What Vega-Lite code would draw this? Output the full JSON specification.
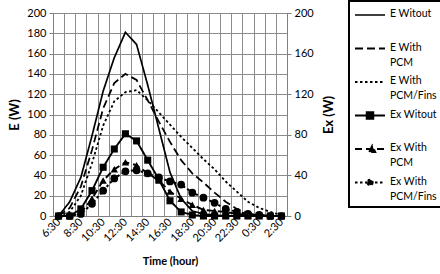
{
  "$schema": "https://vega.github.io/schema/vega-lite/v6.json",
  "width": 234,
  "height": 203,
  "autosize": {"type": "none"},
  "padding": {"left": 53, "top": 13, "right": 153, "bottom": 58},
  "background": "white",
  "config": {
    "font": "Lato",
    "view": {"stroke": "#808080", "strokeWidth": 1},
    "axis": {
      "labelFont": "Lato", "labelFontSize": 11, "labelColor": "#000000", "labelOverlap": false,
      "titleFont": "Lato", "titleColor": "#000000",
      "gridColor": "#8c8c8c", "gridWidth": 1, "gridOpacity": 1,
      "domainColor": "#808080", "tickColor": "#808080", "tickSize": 4
    }
  },
  "datasets": {
    "E": [
      {"time": "6:30", "series": "E Witout", "value": 0},
      {"time": "7:30", "series": "E Witout", "value": 14},
      {"time": "8:30", "series": "E Witout", "value": 38},
      {"time": "9:30", "series": "E Witout", "value": 79},
      {"time": "10:30", "series": "E Witout", "value": 123},
      {"time": "11:30", "series": "E Witout", "value": 156},
      {"time": "12:30", "series": "E Witout", "value": 181},
      {"time": "13:30", "series": "E Witout", "value": 169},
      {"time": "14:30", "series": "E Witout", "value": 129},
      {"time": "15:30", "series": "E Witout", "value": 86},
      {"time": "16:30", "series": "E Witout", "value": 43},
      {"time": "17:30", "series": "E Witout", "value": 17},
      {"time": "18:30", "series": "E Witout", "value": 5},
      {"time": "19:30", "series": "E Witout", "value": 2},
      {"time": "20:30", "series": "E Witout", "value": 1},
      {"time": "21:30", "series": "E Witout", "value": 0},
      {"time": "22:30", "series": "E Witout", "value": 0},
      {"time": "23:30", "series": "E Witout", "value": 0},
      {"time": "0:30", "series": "E Witout", "value": 0},
      {"time": "1:30", "series": "E Witout", "value": 0},
      {"time": "2:30", "series": "E Witout", "value": 0},
      {"time": "6:30", "series": "E With PCM", "value": 0},
      {"time": "7:30", "series": "E With PCM", "value": 8},
      {"time": "8:30", "series": "E With PCM", "value": 29},
      {"time": "9:30", "series": "E With PCM", "value": 65},
      {"time": "10:30", "series": "E With PCM", "value": 106},
      {"time": "11:30", "series": "E With PCM", "value": 131},
      {"time": "12:30", "series": "E With PCM", "value": 140},
      {"time": "13:30", "series": "E With PCM", "value": 134},
      {"time": "14:30", "series": "E With PCM", "value": 114},
      {"time": "15:30", "series": "E With PCM", "value": 93},
      {"time": "16:30", "series": "E With PCM", "value": 73},
      {"time": "17:30", "series": "E With PCM", "value": 55},
      {"time": "18:30", "series": "E With PCM", "value": 42},
      {"time": "19:30", "series": "E With PCM", "value": 33},
      {"time": "20:30", "series": "E With PCM", "value": 23},
      {"time": "21:30", "series": "E With PCM", "value": 14},
      {"time": "22:30", "series": "E With PCM", "value": 7},
      {"time": "23:30", "series": "E With PCM", "value": 3},
      {"time": "0:30", "series": "E With PCM", "value": 1},
      {"time": "1:30", "series": "E With PCM", "value": 0},
      {"time": "2:30", "series": "E With PCM", "value": 0},
      {"time": "6:30", "series": "E With PCM/Fins", "value": 0},
      {"time": "7:30", "series": "E With PCM/Fins", "value": 4},
      {"time": "8:30", "series": "E With PCM/Fins", "value": 20},
      {"time": "9:30", "series": "E With PCM/Fins", "value": 52},
      {"time": "10:30", "series": "E With PCM/Fins", "value": 89},
      {"time": "11:30", "series": "E With PCM/Fins", "value": 113},
      {"time": "12:30", "series": "E With PCM/Fins", "value": 122},
      {"time": "13:30", "series": "E With PCM/Fins", "value": 124},
      {"time": "14:30", "series": "E With PCM/Fins", "value": 114},
      {"time": "15:30", "series": "E With PCM/Fins", "value": 102},
      {"time": "16:30", "series": "E With PCM/Fins", "value": 90},
      {"time": "17:30", "series": "E With PCM/Fins", "value": 78},
      {"time": "18:30", "series": "E With PCM/Fins", "value": 67},
      {"time": "19:30", "series": "E With PCM/Fins", "value": 56},
      {"time": "20:30", "series": "E With PCM/Fins", "value": 46},
      {"time": "21:30", "series": "E With PCM/Fins", "value": 34},
      {"time": "22:30", "series": "E With PCM/Fins", "value": 24},
      {"time": "23:30", "series": "E With PCM/Fins", "value": 14},
      {"time": "0:30", "series": "E With PCM/Fins", "value": 8},
      {"time": "1:30", "series": "E With PCM/Fins", "value": 4},
      {"time": "2:30", "series": "E With PCM/Fins", "value": 1}
    ],
    "Ex": [
      {"time": "6:30", "series": "Ex Witout", "value": 0},
      {"time": "7:30", "series": "Ex Witout", "value": 0},
      {"time": "8:30", "series": "Ex Witout", "value": 7},
      {"time": "9:30", "series": "Ex Witout", "value": 25},
      {"time": "10:30", "series": "Ex Witout", "value": 48},
      {"time": "11:30", "series": "Ex Witout", "value": 66},
      {"time": "12:30", "series": "Ex Witout", "value": 81},
      {"time": "13:30", "series": "Ex Witout", "value": 74},
      {"time": "14:30", "series": "Ex Witout", "value": 55},
      {"time": "15:30", "series": "Ex Witout", "value": 36},
      {"time": "16:30", "series": "Ex Witout", "value": 15},
      {"time": "17:30", "series": "Ex Witout", "value": 4},
      {"time": "18:30", "series": "Ex Witout", "value": 1},
      {"time": "19:30", "series": "Ex Witout", "value": 0},
      {"time": "20:30", "series": "Ex Witout", "value": 0},
      {"time": "21:30", "series": "Ex Witout", "value": 0},
      {"time": "22:30", "series": "Ex Witout", "value": 0},
      {"time": "23:30", "series": "Ex Witout", "value": 0},
      {"time": "0:30", "series": "Ex Witout", "value": 0},
      {"time": "1:30", "series": "Ex Witout", "value": 0},
      {"time": "2:30", "series": "Ex Witout", "value": 0},
      {"time": "6:30", "series": "Ex With PCM", "value": 0},
      {"time": "7:30", "series": "Ex With PCM", "value": 0},
      {"time": "8:30", "series": "Ex With PCM", "value": 3},
      {"time": "9:30", "series": "Ex With PCM", "value": 17},
      {"time": "10:30", "series": "Ex With PCM", "value": 35},
      {"time": "11:30", "series": "Ex With PCM", "value": 46},
      {"time": "12:30", "series": "Ex With PCM", "value": 53},
      {"time": "13:30", "series": "Ex With PCM", "value": 50},
      {"time": "14:30", "series": "Ex With PCM", "value": 42},
      {"time": "15:30", "series": "Ex With PCM", "value": 35},
      {"time": "16:30", "series": "Ex With PCM", "value": 24},
      {"time": "17:30", "series": "Ex With PCM", "value": 17},
      {"time": "18:30", "series": "Ex With PCM", "value": 11},
      {"time": "19:30", "series": "Ex With PCM", "value": 6},
      {"time": "20:30", "series": "Ex With PCM", "value": 5},
      {"time": "21:30", "series": "Ex With PCM", "value": 4},
      {"time": "22:30", "series": "Ex With PCM", "value": 2},
      {"time": "23:30", "series": "Ex With PCM", "value": 1},
      {"time": "0:30", "series": "Ex With PCM", "value": 1},
      {"time": "1:30", "series": "Ex With PCM", "value": 0},
      {"time": "2:30", "series": "Ex With PCM", "value": 0},
      {"time": "6:30", "series": "Ex With PCM/Fins", "value": 0},
      {"time": "7:30", "series": "Ex With PCM/Fins", "value": 0},
      {"time": "8:30", "series": "Ex With PCM/Fins", "value": 2},
      {"time": "9:30", "series": "Ex With PCM/Fins", "value": 12},
      {"time": "10:30", "series": "Ex With PCM/Fins", "value": 25},
      {"time": "11:30", "series": "Ex With PCM/Fins", "value": 37},
      {"time": "12:30", "series": "Ex With PCM/Fins", "value": 44},
      {"time": "13:30", "series": "Ex With PCM/Fins", "value": 45},
      {"time": "14:30", "series": "Ex With PCM/Fins", "value": 42},
      {"time": "15:30", "series": "Ex With PCM/Fins", "value": 38},
      {"time": "16:30", "series": "Ex With PCM/Fins", "value": 34},
      {"time": "17:30", "series": "Ex With PCM/Fins", "value": 31},
      {"time": "18:30", "series": "Ex With PCM/Fins", "value": 23},
      {"time": "19:30", "series": "Ex With PCM/Fins", "value": 18},
      {"time": "20:30", "series": "Ex With PCM/Fins", "value": 13},
      {"time": "21:30", "series": "Ex With PCM/Fins", "value": 7},
      {"time": "22:30", "series": "Ex With PCM/Fins", "value": 4},
      {"time": "23:30", "series": "Ex With PCM/Fins", "value": 2},
      {"time": "0:30", "series": "Ex With PCM/Fins", "value": 1},
      {"time": "1:30", "series": "Ex With PCM/Fins", "value": 0},
      {"time": "2:30", "series": "Ex With PCM/Fins", "value": 0}
    ]
  },
  "layer": [
    {
      "data": {"name": "E"},
      "mark": {"type": "line", "color": "black"},
      "encoding": {
        "x": {
          "field": "time", "type": "ordinal", "bandPosition": 0.5,
          "scale": {"type": "band", "paddingInner": 0, "paddingOuter": 0,
            "domain": ["6:30","7:30","8:30","9:30","10:30","11:30","12:30","13:30","14:30","15:30","16:30","17:30","18:30","19:30","20:30","21:30","22:30","23:30","0:30","1:30","2:30"]},
          "axis": {
            "title": "Time (hour)", "titleFontWeight": "bold", "titleFontSize": 11, "titlePadding": 12,
            "tickBand": "extent", "grid": true, "ticks": false,
            "labelAngle": -45, "labelAlign": "right", "labelBaseline": "middle", "labelPadding": 4,
            "labelExpr": "parseInt(split(datum.label, ':')[0]) % 2 == 0 ? datum.label : ''"
          }
        },
        "y": {
          "field": "value", "type": "quantitative",
          "scale": {"domain": [0, 200], "nice": false},
          "axis": {"title": "E (W)", "titleFontWeight": "bold", "titleFontSize": 13, "titlePadding": 5,
            "values": [0,20,40,60,80,100,120,140,160,180,200], "labelPadding": 3}
        },
        "strokeWidth": {
          "field": "series", "type": "nominal",
          "scale": {
            "domain": ["E Witout","E With PCM","E With PCM/Fins","Ex Witout","Ex With PCM","Ex With PCM/Fins"],
            "range": [1.7, 2, 2.6, 2, 2, 2.4]
          },
          "legend": null
        },
        "strokeDash": {
          "field": "series", "type": "nominal",
          "scale": {
            "domain": ["E Witout","E With PCM","E With PCM/Fins","Ex Witout","Ex With PCM","Ex With PCM/Fins"],
            "range": [[1,0],[8,4],[2.5,2.5],[1,0],[7,4],[2.5,2.5]]
          },
          "legend": {
            "title": null, "orient": "none", "legendX": 296, "legendY": -12,
            "strokeColor": "black", "padding": 5, "gridAlign": "all", "rowPadding": 4.5,
            "symbolSize": 900, "symbolStrokeWidth": 2, "symbolStrokeColor": "black",
            "labelFont": "Lato", "labelFontSize": 10.5, "labelColor": "black", "labelOffset": 4,
            "labelBaseline": "top",
            "labelExpr": "indexof(datum.label, 'With') < 0 ? datum.label : [slice(datum.label, 0, indexof(datum.label, 'With') + 4), slice(datum.label, indexof(datum.label, 'With') + 5)]",
            "encode": {
              "legend": {"update": {"strokeWidth": {"value": 2}}},
              "labels": {"update": {"y": {"value": 3}, "lineHeight": {"value": 15}}},
              "symbols": {"update": {
                "y": {"value": 9},
                "fill": {"value": "black"},
                "stroke": {"value": "black"},
                "strokeWidth": {"value": 2},
                "shape": {"signal": "datum.value == 'Ex Witout' ? 'M-1,0H1M-0.22,-0.22H0.22V0.22H-0.22Z' : datum.value == 'Ex With PCM' ? 'M-1,0H1M-0.05,0.2L0.15,-0.22L0.35,0.2Z' : datum.value == 'Ex With PCM/Fins' ? 'M-1,0H1M0.18,0A0.18,0.18 0 1,1 -0.18,0A0.18,0.18 0 1,1 0.18,0Z' : 'M-1,0H1'"}
              }}
            }
          }
        }
      }
    },
    {
      "data": {"name": "Ex"},
      "layer": [
        {
          "mark": {"type": "line", "color": "black"},
          "encoding": {
            "x": {"field": "time", "type": "ordinal", "bandPosition": 0.5},
            "y": {
              "field": "value", "type": "quantitative",
              "scale": {"domain": [0, 200], "nice": false},
              "axis": {"orient": "right", "title": "Ex (W)", "titleFontWeight": "bold", "titleFontSize": 13,
                "titleAngle": -90, "titlePadding": 22, "grid": false,
                "values": [0,20,40,60,80,100,120,140,160,180,200], "labelPadding": 3}
            },
            "strokeWidth": {"field": "series", "type": "nominal", "legend": null},
            "strokeDash": {"field": "series", "type": "nominal"}
          }
        },
        {
          "mark": {"type": "point", "filled": true, "color": "black", "opacity": 1},
          "encoding": {
            "x": {"field": "time", "type": "ordinal", "bandPosition": 0.5},
            "y": {"field": "value", "type": "quantitative"},
            "shape": {
              "field": "series", "type": "nominal",
              "scale": {"domain": ["Ex Witout","Ex With PCM","Ex With PCM/Fins"], "range": ["square","triangle-up","circle"]},
              "legend": null
            },
            "size": {
              "field": "series", "type": "nominal",
              "scale": {"domain": ["Ex Witout","Ex With PCM","Ex With PCM/Fins"], "range": [50, 60, 40]},
              "legend": null
            }
          }
        }
      ]
    }
  ],
  "resolve": {"scale": {"y": "independent"}}
}
